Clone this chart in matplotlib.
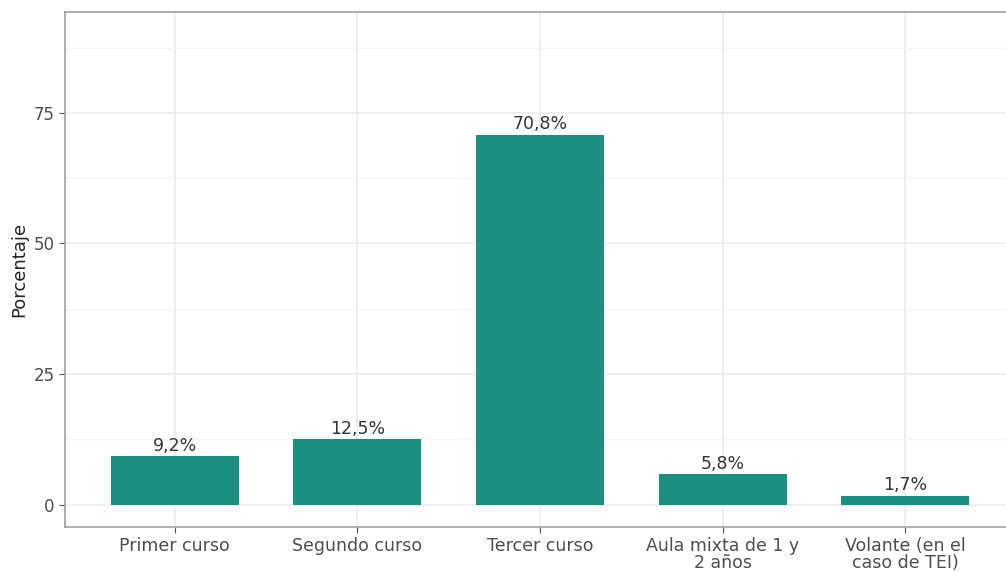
import matplotlib.pyplot as plt
import numpy as np

# data
cursos = ["Primer curso", "Segundo curso", "Tercer curso",
          "Aula mixta de 1 y\n2 años", "Volante (en el\ncaso de TEI)"]
porcentaje = [9.2, 12.5, 70.8, 5.8, 1.7]
etiquetas = ["9,2%", "12,5%", "70,8%", "5,8%", "1,7%"]

plt.rcParams['font.family'] = ['DejaVu Sans']

fig = plt.figure(figsize=(10.06, 5.72), dpi=100)
W, H = 1006, 572
left, right, top, bottom = 65, 1015, 12, 527
ax = fig.add_axes([left / W, 1 - bottom / H, (right - left) / W, (bottom - top) / H])

x = np.arange(1, len(cursos) + 1)
ax.bar(x, porcentaje, width=0.7, color='#1b9080', zorder=3)
for xi, v, lab in zip(x, porcentaje, etiquetas):
    ax.annotate(lab, (xi, v), xytext=(0, 1), textcoords='offset points',
                ha='center', va='bottom', fontsize=12.5, color='#333333', zorder=4)

ax.set_xlim(0.4, 5.6)
ax.set_ylim(-4.3, 94.3)
ax.set_xticks(x)
ax.set_xticklabels(cursos, fontsize=12.5, color='#4d4d4d', linespacing=0.95)
ax.set_yticks([0, 25, 50, 75])
ax.set_yticks([12.5, 37.5, 62.5, 87.5], minor=True)
ax.tick_params(axis='y', labelsize=12, labelcolor='#4d4d4d', length=4, color='#555555')
ax.tick_params(axis='x', length=4, color='#555555', pad=3)
ax.tick_params(axis='y', which='minor', length=0)
ax.grid(True, which='major', color='#ebebeb', linewidth=1.1, zorder=0)
ax.grid(True, which='minor', axis='y', color='#f3f3f3', linewidth=0.8, zorder=0)
for s in ax.spines.values():
    s.set_color('#999999')
    s.set_linewidth(1.1)
ax.spines['right'].set_visible(False)
ax.set_ylabel("Porcentaje", fontsize=13, color='#222222', labelpad=4)

fig.savefig("out.png", dpi=100)
